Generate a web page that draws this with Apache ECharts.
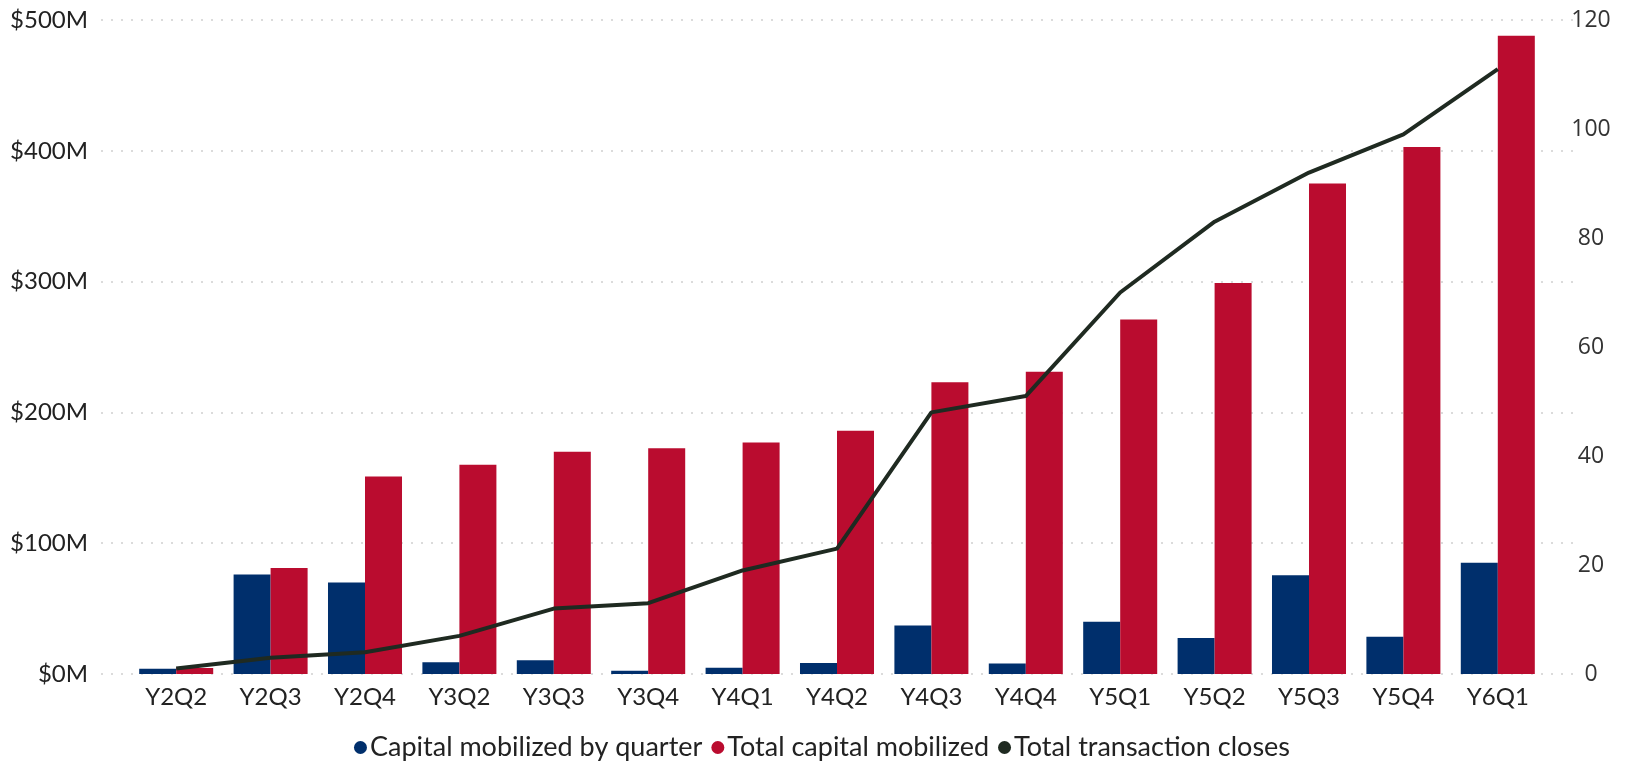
<!DOCTYPE html>
<html>
<head>
<meta charset="utf-8">
<title>Capital mobilized and transaction closes</title>
<script src="https://cdn.jsdelivr.net/npm/echarts@6/dist/echarts.min.js"></script>
<style>
  html, body { margin: 0; padding: 0; background: #ffffff; }
  #chart { width: 1644px; height: 761px; }
</style>
</head>
<body>
<div id="chart"></div>
<script>
// Quarter labels
const quarters = ['Y2Q2', 'Y2Q3', 'Y2Q4', 'Y3Q2', 'Y3Q3', 'Y3Q4', 'Y4Q1', 'Y4Q2',
                  'Y4Q3', 'Y4Q4', 'Y5Q1', 'Y5Q2', 'Y5Q3', 'Y5Q4', 'Y6Q1'];

// Capital mobilized in each quarter, $M
const capitalByQuarter = [4, 76, 70, 9, 10.5, 2.5, 4.8, 8.5, 37, 8, 40, 27.5, 75.5, 28.5, 85];

// Cumulative capital mobilized, $M
const totalCapital = [4.5, 81, 151, 160, 170, 172.5, 177, 186, 223, 231, 271, 299, 375, 403, 488];

// Cumulative number of transaction closes
const totalCloses = [1, 3, 4, 7, 12, 13, 19, 23, 48, 51, 70, 83, 92, 99, 111];

// Axis ranges
const moneyTicks = { min: 0, max: 500, interval: 100 };
const closesTicks = { min: 0, max: 120, interval: 20 };

const BLUE = '#002F6C';
const RED = '#BA0C2F';
const DARK = '#1F2A21';
const LABEL_FONT = 'Lato, "Open Sans", sans-serif';

const chart = echarts.init(document.getElementById('chart'), null, { renderer: 'canvas' });

chart.setOption({
  animation: false,
  backgroundColor: '#ffffff',
  grid: [
    // plotting area for bars and line
    { left: 129, right: 99, top: 20, bottom: 87 },
    // wider area that only carries the dotted gridlines
    { left: 101, right: 71, top: 20, bottom: 87 }
  ],
  legend: {
    data: ['Capital mobilized by quarter', 'Total capital mobilized', 'Total transaction closes'],
    top: 729,
    left: 'center',
    icon: 'circle',
    itemWidth: 13,
    itemHeight: 13,
    itemGap: 9,
    textStyle: { fontFamily: LABEL_FONT, fontSize: 27, color: '#222222', padding: [0, 0, 0, -2] }
  },
  xAxis: [
    {
      type: 'category',
      gridIndex: 0,
      data: quarters,
      axisLine: { show: false },
      axisTick: { show: false },
      axisLabel: { fontFamily: LABEL_FONT, fontSize: 24, color: '#222222', margin: 11 }
    },
    { type: 'value', gridIndex: 1, show: false, min: 0, max: 1 }
  ],
  yAxis: [
    {
      type: 'value',
      gridIndex: 0,
      position: 'left',
      min: moneyTicks.min,
      max: moneyTicks.max,
      interval: moneyTicks.interval,
      axisLine: { show: false },
      axisTick: { show: false },
      splitLine: { show: false },
      axisLabel: {
        fontFamily: LABEL_FONT, fontSize: 24, color: '#222222', margin: 41,
        formatter: v => '$' + v + 'M'
      }
    },
    {
      type: 'value',
      gridIndex: 0,
      position: 'right',
      min: closesTicks.min,
      max: closesTicks.max,
      interval: closesTicks.interval,
      axisLine: { show: false },
      axisTick: { show: false },
      splitLine: { show: false },
      axisLabel: {
        fontFamily: '"Open Sans", sans-serif', fontSize: 23, color: '#333333',
        margin: 46, align: 'center'
      }
    },
    {
      type: 'value',
      gridIndex: 1,
      min: moneyTicks.min,
      max: moneyTicks.max,
      interval: moneyTicks.interval,
      axisLine: { show: false },
      axisTick: { show: false },
      axisLabel: { show: false },
      splitLine: { show: true, lineStyle: { color: '#cfcfcf', type: [2, 8], width: 1.5 } }
    }
  ],
  series: [
    {
      name: 'Capital mobilized by quarter',
      type: 'bar',
      xAxisIndex: 0,
      yAxisIndex: 0,
      data: capitalByQuarter,
      barGap: '0%',
      barCategoryGap: '21.6%',
      itemStyle: { color: BLUE },
      z: 3
    },
    {
      name: 'Total capital mobilized',
      type: 'bar',
      xAxisIndex: 0,
      yAxisIndex: 0,
      data: totalCapital,
      barGap: '0%',
      barCategoryGap: '21.6%',
      itemStyle: { color: RED },
      z: 3
    },
    {
      name: 'Total transaction closes',
      type: 'line',
      xAxisIndex: 0,
      yAxisIndex: 1,
      data: totalCloses,
      showSymbol: false,
      symbol: 'circle',
      itemStyle: { color: DARK },
      lineStyle: { color: DARK, width: 4 },
      z: 5
    }
  ]
});
</script>
</body>
</html>
